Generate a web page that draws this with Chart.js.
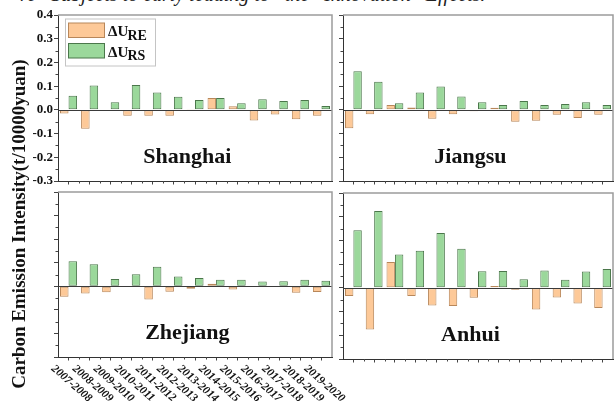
<!DOCTYPE html>
<html><head><meta charset="utf-8">
<script src="https://cdn.jsdelivr.net/npm/chart.js@4.4.1/dist/chart.umd.min.js"></script>
<style>
html,body{margin:0;padding:0;background:#fff;width:614px;height:403px;overflow:hidden;position:relative;}
canvas{position:absolute;left:0;top:0;}
#cap{position:absolute;left:20px;top:-16px;font:italic 20px "Liberation Serif";white-space:pre;color:#222;line-height:20px;}
</style></head><body>
<div id="cap">re   Subjects to early leading to   the   Innovation   Effects.</div>
<canvas id="c0" width="614" height="403"></canvas>
<canvas id="c1" width="614" height="403"></canvas>
<canvas id="c2" width="614" height="403"></canvas>
<canvas id="c3" width="614" height="403"></canvas>
<script>
// ---- data ----
const periods = ['2007-2008','2008-2009','2009-2010','2010-2011','2011-2012','2012-2013','2013-2014','2014-2015','2015-2016','2016-2017','2017-2018','2018-2019','2019-2020'];
const seriesNames = ['ΔU_RE','ΔU_RS'];
const shanghaiRE = [-0.015,-0.080,-0.003,-0.025,-0.025,-0.025,0.004,0.050,0.015,-0.045,-0.020,-0.040,-0.025];
const shanghaiRS = [0.060,0.103,0.032,0.105,0.073,0.055,0.042,0.050,0.028,0.045,0.037,0.042,0.016];
const jiangsuRE = [-0.078,-0.018,0.020,0.010,-0.038,-0.018,-0.006,0.009,-0.050,-0.046,-0.021,-0.034,-0.021];
const jiangsuRS = [0.163,0.118,0.028,0.073,0.099,0.056,0.032,0.020,0.037,0.020,0.025,0.032,0.020];
const zhejiangRE = [-0.044,-0.031,-0.025,0.000,-0.056,-0.023,-0.010,0.011,-0.014,-0.001,-0.002,-0.027,-0.024];
const zhejiangRS = [0.106,0.094,0.031,0.051,0.083,0.042,0.035,0.028,0.028,0.020,0.021,0.028,0.024];
const anhuiRE = [-0.034,-0.176,0.109,-0.034,-0.074,-0.077,-0.042,0.008,-0.008,-0.091,-0.041,-0.066,-0.085];
const anhuiRS = [0.243,0.324,0.141,0.157,0.231,0.165,0.070,0.071,0.036,0.073,0.034,0.069,0.080];
const yMin = -0.3, yMax = 0.4, yStep = 0.1;
const yAxisTitle = 'Carbon Emission Intensity(t/10000yuan)';

const SERIF = '"Liberation Serif","DejaVu Serif",serif';
const W = 614, H = 403;

const deco = {
  id: 'deco',
  afterDatasetsDraw(chart, args, o) {
    const {ctx, chartArea: a, scales: {x, y}} = chart;
    ctx.save();
    // zero line
    const y0 = Math.round(y.getPixelForValue(0)) + 0.5;
    ctx.strokeStyle = '#3a3a3a'; ctx.lineWidth = 1;
    ctx.beginPath(); ctx.moveTo(a.left, y0); ctx.lineTo(a.right, y0); ctx.stroke();
    // top & right frame
    ctx.strokeStyle = '#9c9c9c'; ctx.lineWidth = 1.5;
    ctx.beginPath(); ctx.moveTo(a.left, a.top); ctx.lineTo(a.right, a.top); ctx.lineTo(a.right, a.bottom); ctx.stroke();
    // minor ticks
    ctx.strokeStyle = '#444'; ctx.lineWidth = 1;
    ctx.beginPath();
    for (let v = yMin + yStep/2; v < yMax; v += yStep) {
      const py = Math.round(y.getPixelForValue(v)) + 0.5;
      ctx.moveTo(a.left - 2.5, py); ctx.lineTo(a.left, py);
    }
    for (let i = 0; i < periods.length - 1; i++) {
      const px = Math.round((x.getPixelForValue(i) + x.getPixelForValue(i + 1)) / 2) + 0.5;
      ctx.moveTo(px, a.bottom); ctx.lineTo(px, a.bottom + 2.5);
    }
    ctx.stroke();
    // panel title
    ctx.fillStyle = '#111';
    ctx.font = 'bold 22px ' + SERIF;
    ctx.textAlign = 'center'; ctx.textBaseline = 'alphabetic';
    ctx.fillText(o.title, a.left + a.width * 0.472, y.getPixelForValue(-0.225));
    // legend
    if (o.legend) {
      const lx = a.left + 7, ly = a.top + 3.5;
      ctx.fillStyle = '#fff'; ctx.fillRect(lx, ly, 90, 47);
      ctx.strokeStyle = '#c4c4c4'; ctx.lineWidth = 1;
      ctx.strokeRect(lx + 0.5, ly + 0.5, 90, 47);
      const ds = chart.data.datasets;
      const subs = ['RE', 'RS'];
      for (let k = 0; k < 2; k++) {
        const sy = ly + 4.5 + k * 20.5;
        ctx.fillStyle = ds[k].backgroundColor; ctx.fillRect(lx + 3.5, sy, 36, 14.5);
        ctx.strokeStyle = ds[k].borderColor; ctx.strokeRect(lx + 3.5, sy, 36, 14.5);
        ctx.fillStyle = '#111'; ctx.textAlign = 'left';
        ctx.font = 'bold 15px ' + SERIF;
        ctx.fillText('ΔU', lx + 43, sy + 13);
        ctx.font = 'bold 14px ' + SERIF;
        ctx.fillText(subs[k], lx + 62.5, sy + 16.5);
      }
    }
    // rotated category labels
    if (o.xlabels) {
      ctx.fillStyle = '#111';
      ctx.font = 'italic bold 11.5px ' + SERIF;
      ctx.textAlign = 'left'; ctx.textBaseline = 'top';
      for (let i = 0; i < periods.length; i++) {
        ctx.save();
        ctx.translate(x.getPixelForValue(i) - 12, a.bottom + 6);
        ctx.rotate(41 * Math.PI / 180);
        ctx.fillText(periods[i], 0, 0);
        ctx.restore();
      }
    }
    // y-axis title
    if (o.ytitle) {
      ctx.save();
      ctx.fillStyle = '#111';
      ctx.font = 'bold 19px ' + SERIF;
      ctx.textAlign = 'center'; ctx.textBaseline = 'alphabetic';
      ctx.translate(25, 224);
      ctx.rotate(-Math.PI / 2);
      ctx.fillText(yAxisTitle, 0, 0);
      ctx.restore();
    }
    ctx.restore();
  }
};

function makePanel(id, area, re, rs, o) {
  const yW = 40, xH = 6;
  new Chart(document.getElementById(id), {
    type: 'bar',
    data: {
      labels: periods,
      datasets: [
        {label: seriesNames[0], data: re, backgroundColor: '#FDC998', borderColor: '#b8875a', borderWidth: 1, borderSkipped: false, categoryPercentage: 0.81, barPercentage: 1},
        {label: seriesNames[1], data: rs, backgroundColor: '#9BD89B', borderColor: '#4b774b', borderWidth: 1, borderSkipped: false, categoryPercentage: 0.81, barPercentage: 1}
      ]
    },
    options: {
      responsive: false, animation: false, devicePixelRatio: 1,
      layout: {padding: {left: area.L - yW, top: area.T, right: W - area.R, bottom: H - area.B - xH}},
      plugins: {legend: {display: false}, tooltip: {enabled: false}, deco: o},
      scales: {
        x: {
          afterFit: s => { s.height = xH; },
          border: {display: true, color: '#333', width: 1},
          grid: {drawOnChartArea: false, drawTicks: true, tickLength: 3.5, offset: false, color: '#444'},
          ticks: {display: false}
        },
        y: {
          min: yMin, max: yMax,
          afterFit: s => { s.width = yW; },
          border: {display: true, color: '#333', width: 1},
          grid: {drawOnChartArea: false, drawTicks: true, tickLength: 4, color: '#444'},
          ticks: {
            display: !!o.ylabels, stepSize: yStep, padding: 1, color: '#111',
            font: {family: SERIF, size: 13, weight: 'bold'},
            callback: v => (Math.abs(v) < 1e-9 ? 0 : v).toFixed(1)
          }
        }
      }
    },
    plugins: [deco]
  });
}

makePanel('c0', {L: 58, T: 15, R: 332, B: 181}, shanghaiRE, shanghaiRS, {title: 'Shanghai', legend: true, ylabels: true});
makePanel('c1', {L: 343, T: 15, R: 613, B: 181}, jiangsuRE, jiangsuRS, {title: 'Jiangsu'});
makePanel('c2', {L: 58, T: 192, R: 332, B: 357}, zhejiangRE, zhejiangRS, {title: 'Zhejiang', xlabels: true, ytitle: true});
makePanel('c3', {L: 343, T: 193, R: 613, B: 359}, anhuiRE, anhuiRS, {title: 'Anhui'});
</script>
</body></html>
